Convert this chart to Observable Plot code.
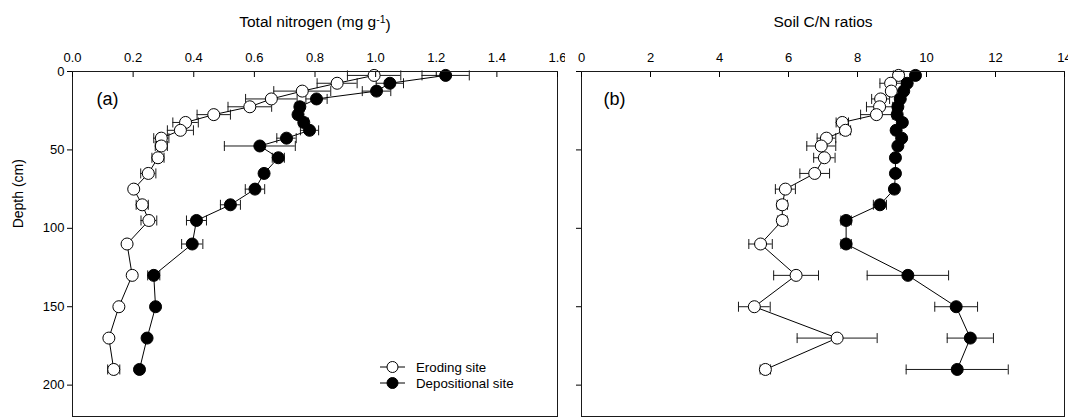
<!DOCTYPE html>
<html><head><meta charset="utf-8">
<script src="https://cdn.jsdelivr.net/npm/d3@7"></script>
<script src="https://cdn.jsdelivr.net/npm/@observablehq/plot@0.6"></script>
<style>
html,body{margin:0;padding:0;background:#fff;}
#chart{position:relative;width:1068px;height:418px;overflow:hidden;font-family:"Liberation Sans",Arial,sans-serif;}
#chart svg{position:absolute;top:0;}
</style></head><body><div id="chart"></div>
<script>
// ---- data ----
const depth = [2.5,7.5,12.5,17.5,22.5,27.5,32.5,37.5,42.5,47.5,55,65,75,85,95,110,130,150,170,190];
const siteNames = ["Eroding site", "Depositional site"];

const tnEroding     = [0.995,0.873,0.758,0.656,0.585,0.466,0.373,0.356,0.293,0.293,0.282,0.250,0.202,0.230,0.252,0.180,0.197,0.153,0.120,0.136];
const tnErodingSE   = [0.088,0.066,0.094,0.085,0.072,0.055,0.042,0.043,0.025,0.020,0.020,0.025,0.008,0.020,0.026,0.008,0.008,0.008,0.008,0.020];
const tnDepositional   = [1.231,1.047,1.003,0.805,0.750,0.744,0.763,0.782,0.706,0.618,0.679,0.632,0.602,0.521,0.409,0.395,0.268,0.274,0.246,0.221];
const tnDepositionalSE = [0.078,0.045,0.047,0.035,0.015,0.012,0.015,0.030,0.032,0.117,0.020,0.010,0.032,0.033,0.033,0.035,0.020,0.008,0.008,0.008];

const cnEroding     = [9.19,8.96,8.98,8.67,8.64,8.55,7.56,7.65,7.10,6.95,7.04,6.76,5.91,5.82,5.82,5.19,6.22,5.01,7.41,5.33];
const cnErodingSE   = [0.15,0.31,0.10,0.26,0.38,0.46,0.18,0.15,0.27,0.42,0.31,0.43,0.29,0.15,0.14,0.34,0.65,0.46,1.16,0.15];
const cnDepositional   = [9.68,9.44,9.34,9.24,9.17,9.15,9.30,9.12,9.28,9.17,9.10,9.10,9.07,8.65,7.67,7.67,9.46,10.86,11.27,10.89];
const cnDepositionalSE = [0.10,0.10,0.10,0.10,0.10,0.10,0.10,0.10,0.10,0.10,0.08,0.08,0.10,0.19,0.15,0.15,1.18,0.62,0.67,1.48];

const xTicksA = [0,0.2,0.4,0.6,0.8,1.0,1.2,1.4,1.6];
const xTicksB = [0,2,4,6,8,10,12,14];
const yTicks = [0,50,100,150,200];

const titleA = "Total nitrogen (mg g-1)";
const titleB = "Soil C/N ratios";
const yLabel = "Depth (cm)";

// ---- helpers ----
const rows = (vals, se) => depth.map((d, i) => ({depth: d, value: vals[i], se: se[i]}));
const capSymbol = {draw(ctx, size) { const h = Math.sqrt(size / Math.PI); ctx.moveTo(0, -h); ctx.lineTo(0, h); }};
const INK = "#1a1a1a";

function panel({width, marginLeft, marginRight, xDomain, xTicks, xFormat, eroding, depositional, title, tag, tagDx, showYLabels}) {
  const series = [[eroding, "white"], [depositional, "black"]];
  const marks = [];
  for (const [data] of series) {
    marks.push(
      Plot.ruleY(data, {y: "depth", x1: d => d.value - d.se, x2: d => d.value + d.se, stroke: INK, strokeWidth: 1}),
      Plot.dot(data, {x: d => d.value - d.se, y: "depth", r: 5, symbol: capSymbol, fill: "none", stroke: INK, strokeWidth: 1}),
      Plot.dot(data, {x: d => d.value + d.se, y: "depth", r: 5, symbol: capSymbol, fill: "none", stroke: INK, strokeWidth: 1})
    );
  }
  for (const [data] of series) marks.push(Plot.line(data, {x: "value", y: "depth", stroke: "black", strokeWidth: 1}));
  for (const [data, fill] of series) marks.push(Plot.dot(data, {x: "value", y: "depth", r: 6, fill, stroke: "black", strokeWidth: 1}));
  marks.push(
    Plot.frame({stroke: INK, strokeWidth: 1}),
    Plot.axisX({anchor: "top", ticks: xTicks, tickFormat: xFormat, tickSize: -5, tickPadding: 15, fontSize: 13, label: null}),
    Plot.axisY({anchor: "left", ticks: yTicks, tickSize: 5, tickPadding: 3, fontSize: 13, label: null,
                tickFormat: showYLabels ? (d => String(d)) : (() => "")}),
    Plot.text([title], {frameAnchor: "top", dy: -49, fontSize: 15.5, lineAnchor: "middle"}),
    Plot.text([tag], {frameAnchor: "top-left", dx: tagDx, dy: 28, fontSize: 18, textAnchor: "start", lineAnchor: "middle"})
  );
  if (showYLabels) {
    marks.push(Plot.text([yLabel], {y: [100], frameAnchor: "left", dx: -54, rotate: -90, fontSize: 14, lineAnchor: "middle"}));
  }
  return Plot.plot({
    width, height: 418,
    marginLeft, marginRight, marginTop: 71, marginBottom: 2,
    style: {fontFamily: "'Liberation Sans', Arial, sans-serif", fontSize: "13px", color: "black", background: "white", overflow: "visible"},
    x: {domain: xDomain},
    y: {domain: [0, 220], reverse: true},
    marks
  });
}

const chart = document.getElementById("chart");

const svgA = panel({
  width: 565, marginLeft: 72, marginRight: 8,
  xDomain: [0, 1.6], xTicks: xTicksA, xFormat: d3.format(".1f"),
  eroding: rows(tnEroding, tnErodingSE), depositional: rows(tnDepositional, tnDepositionalSE),
  title: titleA, tag: "(a)", tagDx: 24, showYLabels: true
});
svgA.style.left = "0px";
chart.appendChild(svgA);

const svgB = panel({
  width: 503, marginLeft: 16, marginRight: 4,
  xDomain: [0, 14], xTicks: xTicksB, xFormat: d3.format("d"),
  eroding: rows(cnEroding, cnErodingSE), depositional: rows(cnDepositional, cnDepositionalSE),
  title: titleB, tag: "(b)", tagDx: 22, showYLabels: false
});
svgB.style.left = "565px";
chart.appendChild(svgB);

// superscript in the title of panel (a)
d3.select(svgA).selectAll("text").filter(function() { return this.textContent === titleA; }).each(function() {
  const t = d3.select(this);
  t.text(null);
  t.append("tspan").text("Total nitrogen (mg g");
  t.append("tspan").attr("dy", "-0.45em").attr("font-size", "10.5").text("-1");
  t.append("tspan").attr("dy", "0.45em").text(")");
});

// legend inside panel (a)
const lg = d3.select(svgA).append("g").attr("aria-label", "legend").attr("text-anchor", "start");
[[siteNames[0], "white", 367], [siteNames[1], "black", 383]].forEach(([label, fill, y]) => {
  lg.append("line").attr("x1", 380).attr("x2", 405).attr("y1", y).attr("y2", y).attr("stroke", "black").attr("stroke-width", 1);
  lg.append("circle").attr("cx", 392.5).attr("cy", y).attr("r", 5.5).attr("fill", fill).attr("stroke", "black");
  lg.append("text").attr("x", 416).attr("y", y).attr("dy", "0.35em").attr("text-anchor", "start")
    .attr("font-size", 13.3).attr("fill", "black").text(label);
});
</script></body></html>
